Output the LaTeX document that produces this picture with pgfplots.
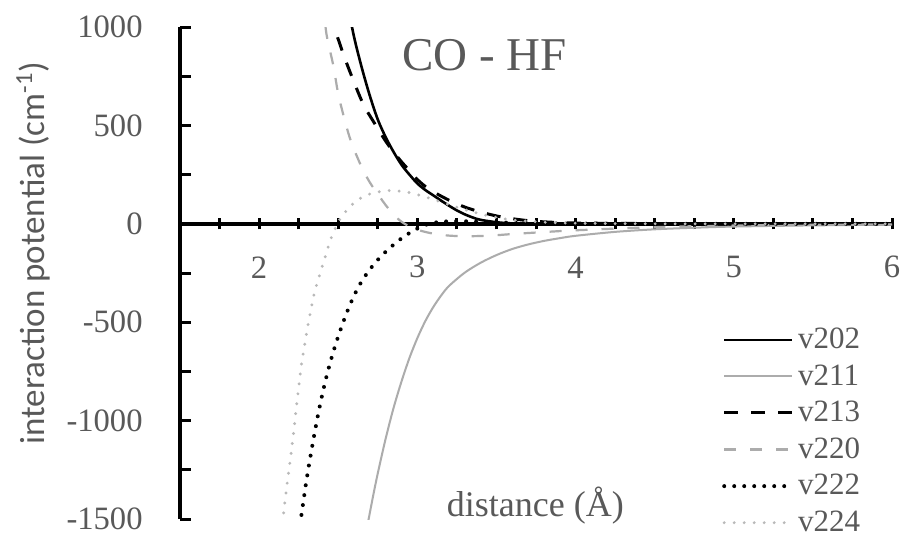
\documentclass[border=0pt]{standalone}
\usepackage{fontspec}
\setmainfont{Liberation Serif}
\newfontfamily\labelfont{Carlito}
\usepackage{pgfplots}
\pgfplotsset{compat=1.18}
\definecolor{txt}{RGB}{89,89,89}
\definecolor{lgray}{RGB}{172,172,172}
\definecolor{dgray}{RGB}{185,185,185}

\begin{document}
\begin{tikzpicture}
\useasboundingbox[fill=white] (-90pt,-9pt) rectangle (362.5pt,259.5pt);
\begin{axis}[
  scale only axis, width=356pt, height=246pt,
  xmin=1.5, xmax=6, ymin=-1500, ymax=1000,
  axis x line=middle, axis y line=left,
  axis line style={-, black, line width=1.9pt},
  hide obscured x ticks=false, hide obscured y ticks=false,
  xtick={2,3,4,5,6},
  minor xtick={1.75,2.25,2.5,2.75,3.25,3.5,3.75,4.25,4.5,4.75,5.25,5.5,5.75},
  ytick={-1500,-1000,-500,0,500,1000},
  minor ytick={-1250,-750,-250,250,750},
  xtick align=center, ytick align=inside,
  major tick length=5.5pt, minor tick length=5.5pt,
  every tick/.style={black, line width=1.5pt},
  /pgf/number format/assume math mode=true,
  /pgf/number format/set thousands separator={},
  xticklabel style={font=\fontsize{16.3}{19}\selectfont, text=txt, anchor=center, inner sep=0pt, yshift=-19pt},
  yticklabel style={font=\fontsize{16.3}{19}\selectfont, text=txt, anchor=east, inner sep=0pt, xshift=-18.5pt},
  ylabel={\labelfont interaction potential (cm\textsuperscript{-1})},
  ylabel style={at={(axis description cs:-0.206,0.54)}, anchor=center, font=\fontsize{17.5}{21}\selectfont, text=txt},
  xlabel={distance (Å)},
  xlabel style={at={(axis description cs:0.499,0.028)}, anchor=center, font=\fontsize{18}{21}\selectfont, text=txt},
  title={CO - HF},
  title style={at={(axis description cs:0.428,0.918)}, anchor=center, font=\fontsize{23.5}{28}\selectfont, text=txt},
  legend style={at={(axis description cs:0.761,0.397)}, anchor=north west, draw=none, fill=none,
    font=\fontsize{15.5}{18}\selectfont, text=txt, row sep=2.5pt, inner sep=0pt,
    /tikz/every odd column/.append style={column sep=0pt}},
  legend cell align=left,
  legend image code/.code={\draw[#1] (0pt,0pt) -- (34pt,0pt);},
]

% v202: solid black
\addplot[black, line width=1.3pt, smooth] coordinates {
 (2.55,1150) (2.60,950) (2.65,790) (2.70,650) (2.75,530) (2.80,440)
 (2.85,365) (2.90,300) (2.95,250) (3.00,205) (3.05,172) (3.10,145)
 (3.15,118) (3.20,92) (3.25,68) (3.30,48) (3.35,32) (3.40,20)
 (3.50,8) (3.60,2) (3.80,-2) (4.00,-2) (4.50,-1) (5.00,0) (6.00,0)
};
\addlegendentry{v202}

% v211: solid grey
\addplot[lgray, line width=1pt, smooth] coordinates {
 (2.69,-1510) (2.72,-1385) (2.75,-1268) (2.80,-1091) (2.85,-935)
 (2.90,-801) (2.95,-682) (3.00,-581) (3.05,-495) (3.10,-424)
 (3.15,-365) (3.20,-316) (3.30,-248) (3.40,-198) (3.50,-159)
 (3.60,-128) (3.70,-105) (3.80,-87) (3.90,-73) (4.00,-61)
 (4.25,-41) (4.50,-28) (4.75,-20) (5.00,-14) (5.50,-8) (6.00,-4.5)
};
\addlegendentry{v211}

% v213: dashed black
\addplot[black, line width=1.5pt, dash pattern=on 7pt off 6.5pt, smooth] coordinates {
 (2.45,1080) (2.479,990) (2.54,845) (2.60,720) (2.66,605) (2.73,510)
 (2.80,420) (2.85,365) (2.90,315) (2.95,270) (3.00,225) (3.05,190)
 (3.10,163) (3.20,120) (3.30,85) (3.40,60) (3.50,40) (3.60,26)
 (3.70,16) (3.80,10) (4.00,4) (4.50,1) (5.00,0) (6.00,0)
};
\addlegendentry{v213}

% v220: dashed grey
\addplot[lgray, line width=1.1pt, dash pattern=on 6pt off 7pt, smooth] coordinates {
 (2.42,1000) (2.43,945) (2.47,800) (2.50,660) (2.54,530) (2.57,445)
 (2.60,378) (2.65,285) (2.70,210) (2.76,140) (2.80,95) (2.86,38)
 (2.92,0) (3.00,-30) (3.10,-50) (3.20,-60) (3.30,-63) (3.40,-62)
 (3.50,-58) (3.60,-52) (3.80,-42) (4.00,-33) (4.50,-17) (5.00,-9)
 (5.50,-5) (6.00,-3)
};
\addlegendentry{v220}

% v222: dotted black
\addplot[black, line width=2pt, line cap=round, dash pattern=on 0pt off 5pt, smooth] coordinates {
 (2.25,-1580) (2.267,-1483) (2.30,-1300) (2.34,-1110) (2.38,-940)
 (2.42,-795) (2.46,-675) (2.50,-572) (2.55,-460) (2.60,-365)
 (2.65,-290) (2.70,-232) (2.75,-183) (2.80,-142) (2.85,-106)
 (2.90,-74) (2.95,-47) (3.00,-24) (3.05,-6) (3.10,5) (3.20,13)
 (3.30,13) (3.40,10) (3.50,7) (3.70,3) (4.00,1) (4.50,0) (5.00,0) (6.00,0)
};
\addlegendentry{v222}

% v224: dotted grey
\addplot[dgray, line width=1.6pt, line cap=round, dash pattern=on 0pt off 5pt, smooth] coordinates {
 (2.14,-1570) (2.155,-1470) (2.175,-1335) (2.197,-1199) (2.22,-1045)
 (2.24,-900) (2.267,-720) (2.30,-555) (2.344,-369) (2.386,-250)
 (2.418,-166) (2.45,-85) (2.48,-25) (2.51,22) (2.545,60) (2.597,105)
 (2.66,139) (2.733,159) (2.817,169) (2.90,165) (2.985,152)
 (3.10,124) (3.20,97) (3.30,72) (3.40,50) (3.50,32) (3.60,20)
 (3.80,8) (4.00,3) (4.50,0) (5.00,0) (6.00,0)
};
\addlegendentry{v224}

\end{axis}
\end{tikzpicture}
\end{document}
